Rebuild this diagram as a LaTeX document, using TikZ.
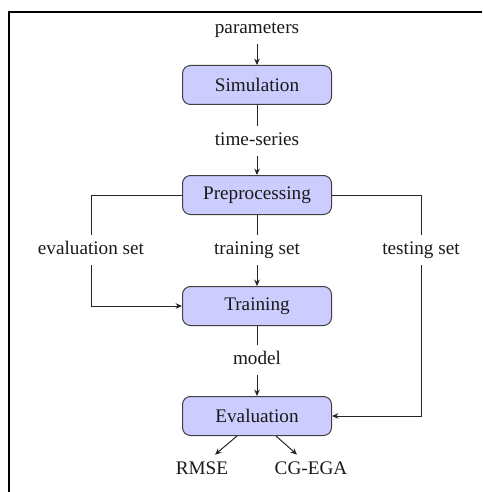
\documentclass[tikz,border=0pt]{standalone}
\usepackage{fontspec}
\setmainfont{Liberation Serif}
\usetikzlibrary{arrows.meta}
\begin{document}
\begin{tikzpicture}[x=0.5pt,y=-0.5pt,
  font=\fontsize{9.6pt}{11pt}\selectfont,
  stage/.style={draw=black!75, fill=blue!20, rounded corners=4pt, line width=0.5pt,
    minimum width=74.5pt, minimum height=19.5pt, inner sep=0pt, text=black!90},
  lbl/.style={inner sep=3.3pt, text height=6.6pt, text depth=1.8pt, text=black!90},
  link/.style={line width=0.5pt, draw=black!85},
  arr/.style={link, -{Stealth[length=3.2pt,width=2.8pt]}}]
\useasboundingbox (0,0) rectangle (482,492);
% partial frame
\draw[line width=1pt] (8.5,492) -- (8.5,12.5) -- (482,12.5);

% pipeline stages
\node[stage] (sim)   at (257,85)  {Simulation};
\node[stage] (pre)   at (257,195) {Preprocessing};
\node[stage] (train) at (257,306) {Training};
\node[stage] (eval)  at (257,416) {Evaluation};

% labels
\node[lbl] (params)   at (257,29)  {parameters};
\node[lbl] (ts)       at (257,141) {time-series};
\node[lbl] (evalset)  at (91,250)  {evaluation set};
\node[lbl] (trainset) at (257,250) {training set};
\node[lbl] (testset)  at (421,250) {testing set};
\node[lbl] (model)    at (257,360) {model};
\node[lbl] (rmse)     at (202,470) {RMSE};
\node[lbl] (cga)      at (311,470) {CG-EGA};

% connectors
\draw[arr] (params) -- (sim);
\draw[link] (sim) -- (ts);
\draw[arr] (ts) -- (pre);
\draw[link] (pre) -- (trainset);
\draw[arr] (trainset) -- (train);
\draw[link] (train) -- (model);
\draw[arr] (model) -- (eval);
\draw[link] (pre.west) -| (evalset.north);
\draw[arr] (evalset.south) |- (train.west);
\draw[link] (pre.east) -| (testset.north);
\draw[arr] (testset.south) |- (eval.east);
\draw[arr] ([xshift=-10pt]eval.south) -- ([xshift=6.5pt]rmse.north);
\draw[arr] ([xshift=9.5pt]eval.south) -- ([xshift=-7pt]cga.north);
\end{tikzpicture}
\end{document}
